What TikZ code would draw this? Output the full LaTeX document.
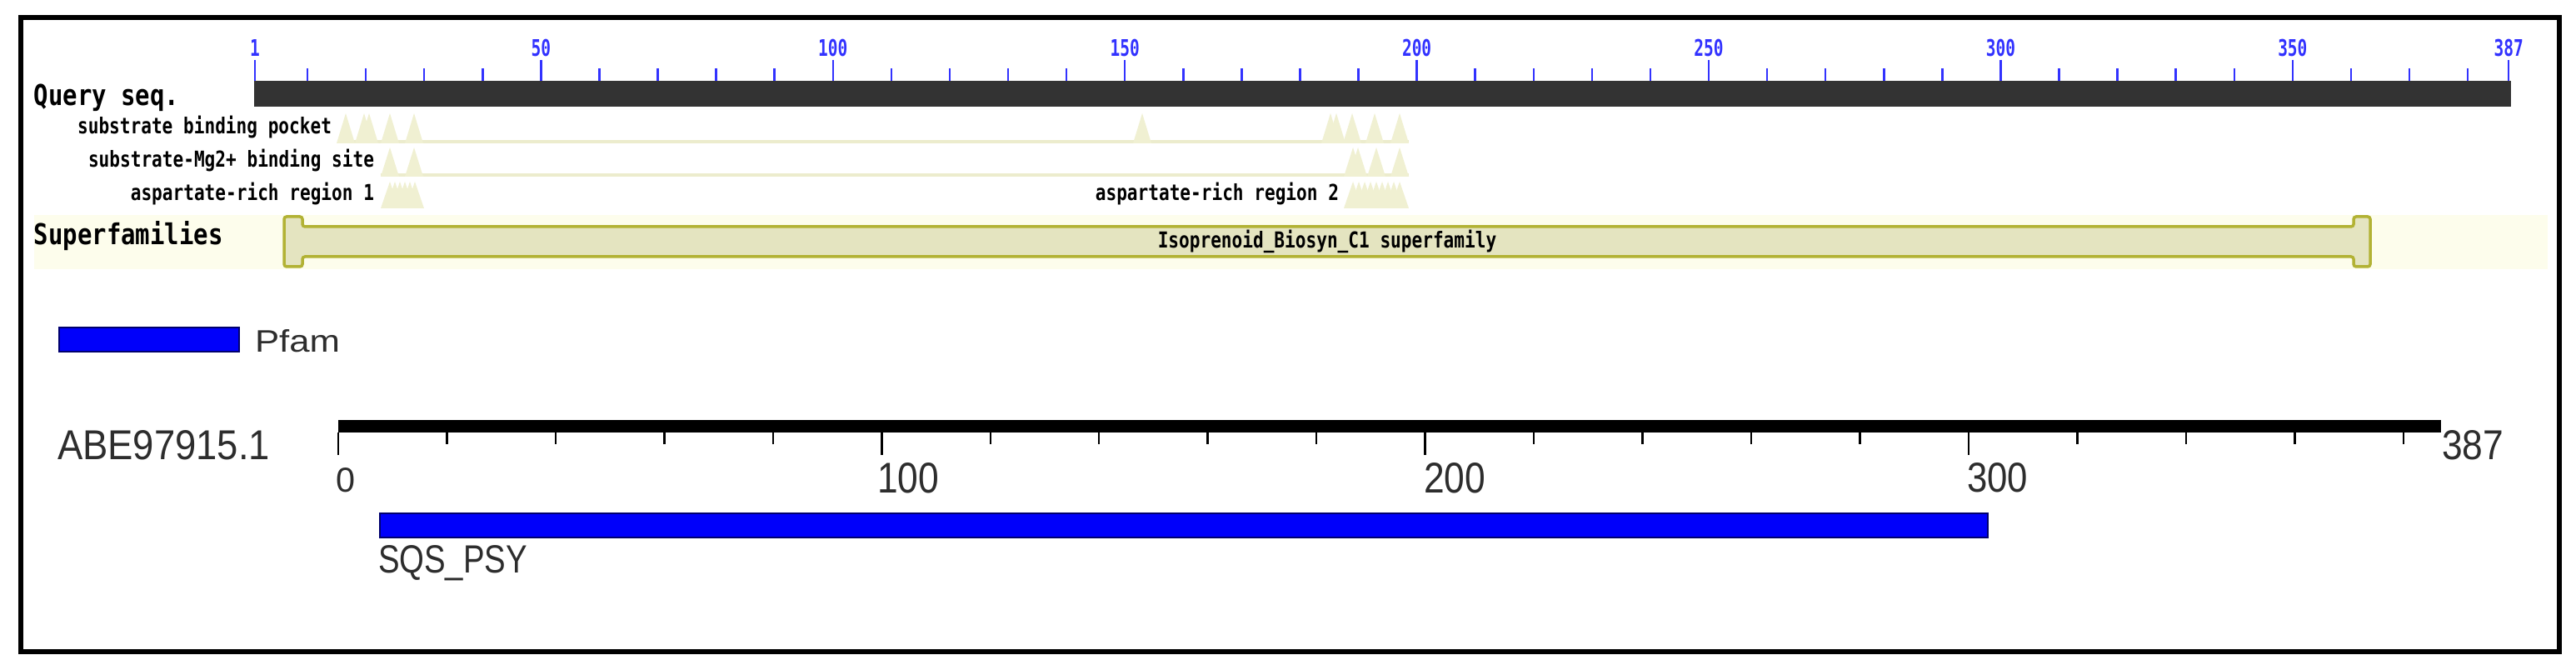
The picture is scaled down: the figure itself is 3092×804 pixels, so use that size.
\documentclass[tikz,border=0pt]{standalone}
\usepackage{fontspec}
\usepackage{graphicx}
\newfontfamily\pixfont{DejaVu Sans Mono}
\newfontfamily\lsans{Liberation Sans}
\newlength\pxu \setlength\pxu{0.01cm}
\definecolor{qbar}{RGB}{51,51,51}
\definecolor{tickblue}{RGB}{50,50,255}
\definecolor{trifill}{RGB}{240,240,210}
\definecolor{trackline}{RGB}{236,236,205}
\definecolor{sfstrip}{RGB}{253,253,236}
\definecolor{sffill}{RGB}{228,228,192}
\definecolor{sfdraw}{RGB}{178,178,52}
\definecolor{pfblue}{RGB}{0,0,250}
\definecolor{pfedge}{RGB}{0,0,110}
\definecolor{sanstext}{RGB}{45,45,45}
\newcommand\bigpix[1]{\scalebox{0.84}[1]{\fontsize{9.8}{10}\selectfont\pixfont\bfseries #1}}
\newcommand\smallpix[1]{\scalebox{0.8}[1]{\fontsize{7.5}{8}\selectfont\pixfont\bfseries #1}}
\newcommand\numpix[1]{\scalebox{0.71}[1]{\fontsize{7.8}{8}\selectfont\pixfont\bfseries #1}}
\newcommand\fitsans[3]{\resizebox{#1\pxu}{#2\pxu}{\lsans #3}}
\tikzset{
  lbl/.style={inner sep=0pt, outer sep=0pt},
  sanslbl/.style={inner sep=0pt, outer sep=0pt, text=sanstext},
  bluetick/.style={tickblue, line width=0.025cm},
  blacktick/.style={black, line width=0.025cm},
  bluebar/.style={draw=pfedge, fill=pfblue, line width=0.02cm},
}
\begin{document}
\begin{tikzpicture}[x=0.01cm,y=-0.01cm]
\useasboundingbox (0,0) rectangle (3092,804);
\fill[white] (0,0) rectangle (3092,804);
% frame
\draw[line width=0.06cm] (25,21) rectangle (3072,782);
% query bar and scale
\fill[qbar] (305,97) rectangle (3014,128);
\foreach \r in {10,20,...,380}
  \draw[bluetick] ({306+(\r-1)*7.008},82) -- ({306+(\r-1)*7.008},97);
\foreach \r in {1,50,100,150,200,250,300,350,387}{
  \draw[bluetick] ({306+(\r-1)*7.008},72) -- ({306+(\r-1)*7.008},97);
  \node[lbl, tickblue, anchor=base] (q\r) at ({306+(\r-1)*7.008},68) {\numpix{\r}};
}
\node[lbl, anchor=base west] (query) at (41,127) {\bigpix{Query seq.}};
% feature rows
\node[lbl, anchor=base east] (r1) at (398,161) {\smallpix{substrate binding pocket}};
\node[lbl, anchor=base east] (r2) at (449,201) {\smallpix{substrate-Mg2+ binding site}};
\node[lbl, anchor=base east] (r3) at (449,241) {\smallpix{aspartate-rich region 1}};
\node[lbl, anchor=base east] (r4) at (1607,241) {\smallpix{aspartate-rich region 2}};
\fill[trackline] (406,168) rectangle (1691,172);
\foreach \p in {415,437,443,468,497,1371,1597,1604,1623,1650,1680}
  \fill[trifill] ({\p-11},172) -- (\p,136) -- ({\p+11},172) -- cycle;
\fill[trackline] (457,208) rectangle (1691,212);
\foreach \p in {468,497,1624,1630,1652,1680}
  \fill[trifill] ({\p-11},212) -- (\p,177) -- ({\p+11},212) -- cycle;
\foreach \p in {468,474,...,498,1624,1631,...,1680}
  \fill[trifill] ({\p-11},250) -- (\p,218) -- ({\p+11},250) -- cycle;
% superfamilies
\fill[sfstrip] (41,258) rectangle (3058,323);
\node[lbl, anchor=base west] (sflab) at (41,294) {\bigpix{Superfamilies}};
\draw[sfdraw, fill=sffill, line width=0.035cm, rounded corners=0.03cm]
  (341,260) -- (363,260) -- (363,272) -- (2825,272) -- (2825,260) -- (2845,260)
  -- (2845,320) -- (2825,320) -- (2825,308) -- (363,308) -- (363,320) -- (341,320) -- cycle;
\node[lbl, anchor=base] (sf) at (1593,298) {\smallpix{Isoprenoid\_Biosyn\_C1 superfamily}};
% Pfam legend
\draw[bluebar] (71,393) rectangle (287,422);
\node[sanslbl, anchor=base west] (pfam) at (306,423) {\fitsans{102}{27}{Pfam}};
% ruler
\node[sanslbl, anchor=base west] (acc) at (69,552) {\fitsans{255}{35}{ABE97915.1}};
\fill[black] (406,504) rectangle (2930,519);
\foreach \v in {20,40,...,380}
  \draw[blacktick] ({406+\v*6.523},519) -- ({406+\v*6.523},533);
\foreach \v in {0,100,200,300}
  \draw[blacktick] ({406+\v*6.523},519) -- ({406+\v*6.523},546);
\node[sanslbl, anchor=base west] (t0) at (403,591) {\fitsans{23}{29}{0}};
\node[sanslbl, anchor=base west] (t100) at (1053,592) {\fitsans{74}{36}{100}};
\node[sanslbl, anchor=base west] (t200) at (1709,592) {\fitsans{74}{36}{200}};
\node[sanslbl, anchor=base west] (t300) at (2361,591) {\fitsans{73}{35}{300}};
\node[sanslbl, anchor=base west] (t387) at (2931,552) {\fitsans{74}{35}{387}};
% domain hit
\draw[bluebar] (456,616) rectangle (2386,645);
\node[sanslbl, anchor=base west] (sqs) at (454,688) {\fitsans{179}{33}{SQS\_PSY}};
\end{tikzpicture}
\end{document}
